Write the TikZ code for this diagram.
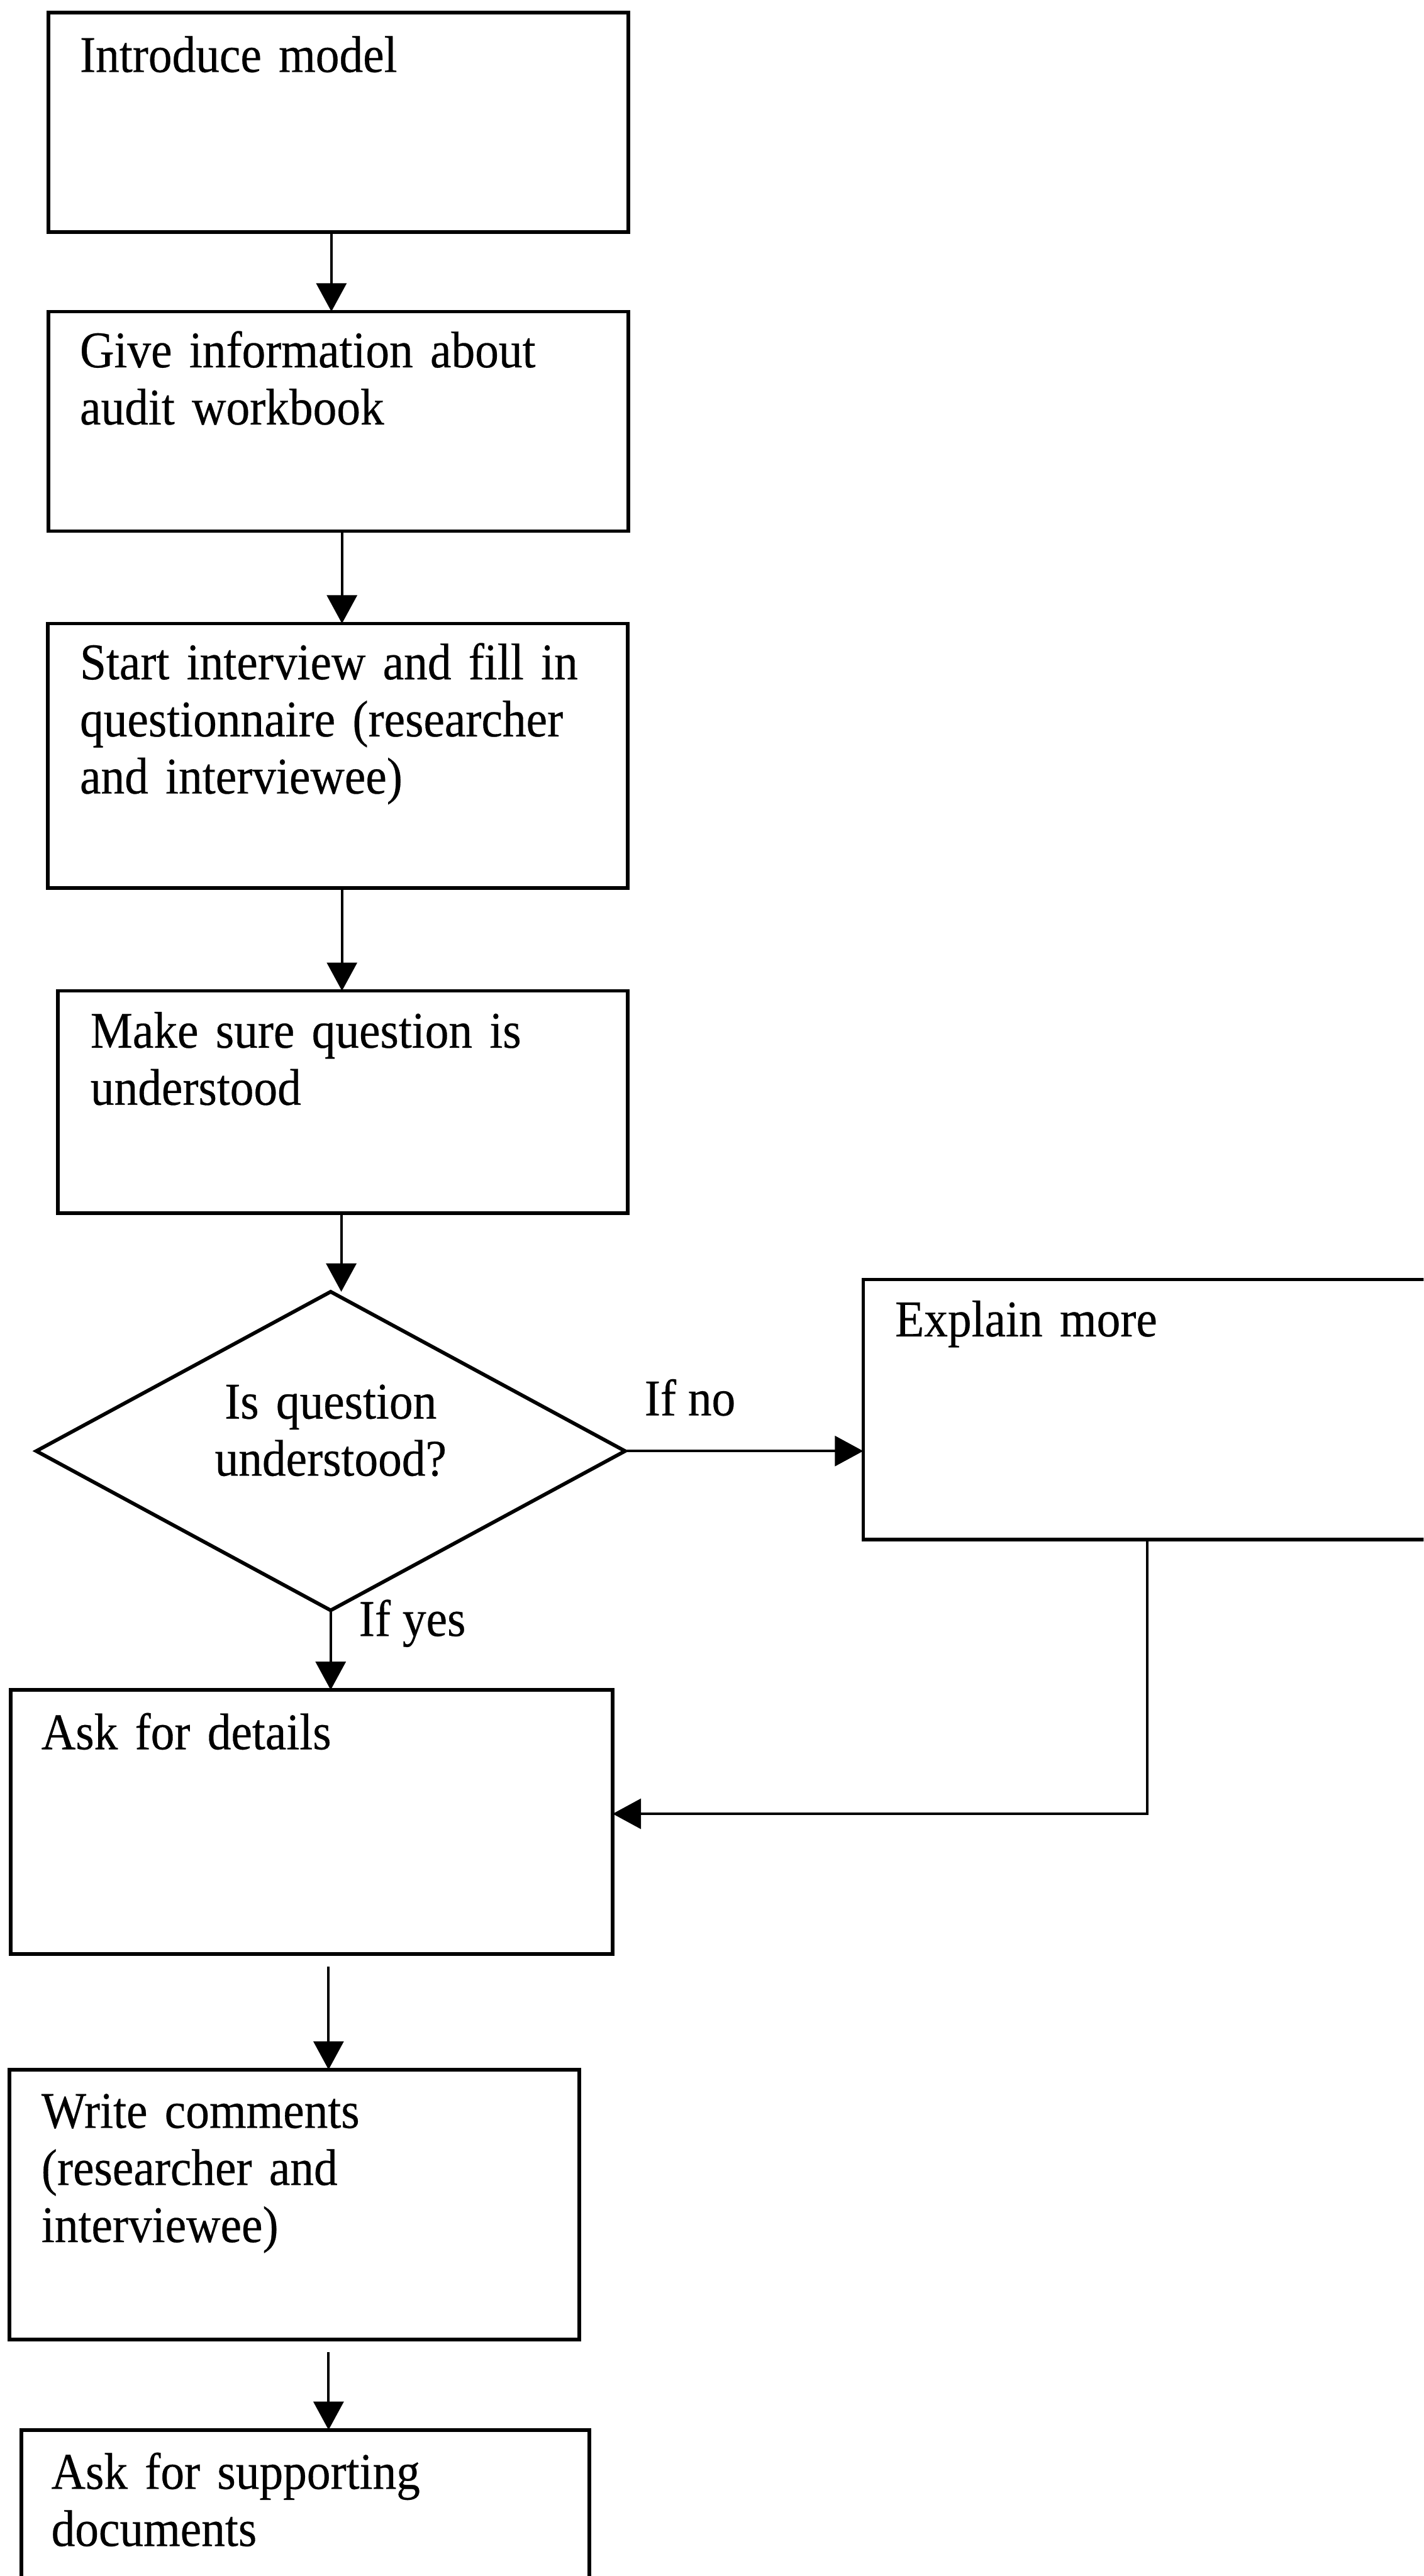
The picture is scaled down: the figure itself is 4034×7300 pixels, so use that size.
\documentclass[tikz,border=0pt]{standalone}
\usepackage{fontspec}
\setmainfont{Liberation Serif}[FakeStretch=0.92,FakeBold=0.35]
\usetikzlibrary{arrows.meta,fit,shapes.geometric,calc}
\begin{document}
\begin{tikzpicture}[x=0.08219pt,y=-0.08219pt,
  font=\fontsize{12}{13.3}\selectfont,
  stepbox/.style={draw, rectangle, line width=0.85pt, inner sep=0pt, outer sep=0pt},
  decide/.style={draw, diamond, line width=0.85pt, inner sep=0pt, outer sep=0pt},
  txt/.style={anchor=base west, inner sep=0pt, text width=150pt, align=left},
  lbl/.style={anchor=base west, inner sep=0pt},
  arr/.style={line width=0.6pt, -{Triangle[length=6.6pt,width=7pt]}}]
\useasboundingbox (0,0) rectangle (4034,7300);
\clip (0,0) rectangle (4034,7300);

% process boxes
\node[stepbox, fit={(137,36) (1781,658)}]   (b1) {};
\node[stepbox, fit={(137,883) (1781,1505)}] (b2) {};
\node[stepbox, fit={(136,1767) (1779,2517)}] (b3) {};
\node[stepbox, fit={(164,2808) (1779,3438)}] (b4) {};
\node[decide, minimum width=137.1pt, minimum height=74.2pt] (dq) at (937,4112) {};
\node[stepbox, fit={(2446,3626) (4090,4363)}] (ex) {};
\node[stepbox, fit={(30,4789) (1736,5538)}]  (ask) {};
\node[stepbox, fit={(27,5865) (1642,6630)}]  (wr) {};
\node[stepbox, fit={(61,6886) (1670,7400)}]  (sup) {};

% box texts
\node[txt] (t1) at (224,204)  {Introduce model};
\node[txt] (t2) at (224,1041) {Give information about\\audit workbook};
\node[txt] (t3) at (224,1925) {Start interview and fill in\\questionnaire (researcher\\and interviewee)};
\node[txt] (t4) at (254,2969) {Make sure question is\\understood};
\node[anchor=base, inner sep=0pt, text width=90pt, align=center] (tq) at (937,4020) {Is question\\understood?};
\node[txt] (tex) at (2534,3787) {Explain more};
\node[txt] (task) at (115,4957) {Ask for details};
\node[txt] (twr) at (115,6030) {Write comments\\(researcher and\\interviewee)};
\node[txt] (tsup) at (143,7053) {Ask for supporting\\documents};

% guide lines for the vertical connectors
\coordinate (x1) at (939,0);
\coordinate (x2) at (969,0);
\coordinate (x4) at (967,0);
\coordinate (x8) at (931,0);
\coordinate (r7) at (3251,5140);

% connectors
\draw[arr] (b1.south -| x1) -- (b2.north -| x1);
\draw[arr] (b2.south -| x2) -- (b3.north -| x2);
\draw[arr] (b3.south -| x2) -- (b4.north -| x2);
\draw[arr] (b4.south -| x4) -- (dq.north -| x4);
\draw[arr] (dq.east) -- (dq.east -| ex.west);
\draw[arr] (dq.south) -- (dq.south |- ask.north);
\draw[arr] (ex.south -| r7) -- (r7) -- (r7 -| ask.east);
\draw[arr] ($(ask.south -| x8)+(0,35)$) -- (wr.north -| x8);
\draw[arr] ($(wr.south -| x8)+(0,36)$) -- (sup.north -| x8);

% branch labels
\node[lbl] (lno)  at (1824,4011) {If no};
\node[lbl] (lyes) at (1015,4636) {If yes};
\end{tikzpicture}
\end{document}
